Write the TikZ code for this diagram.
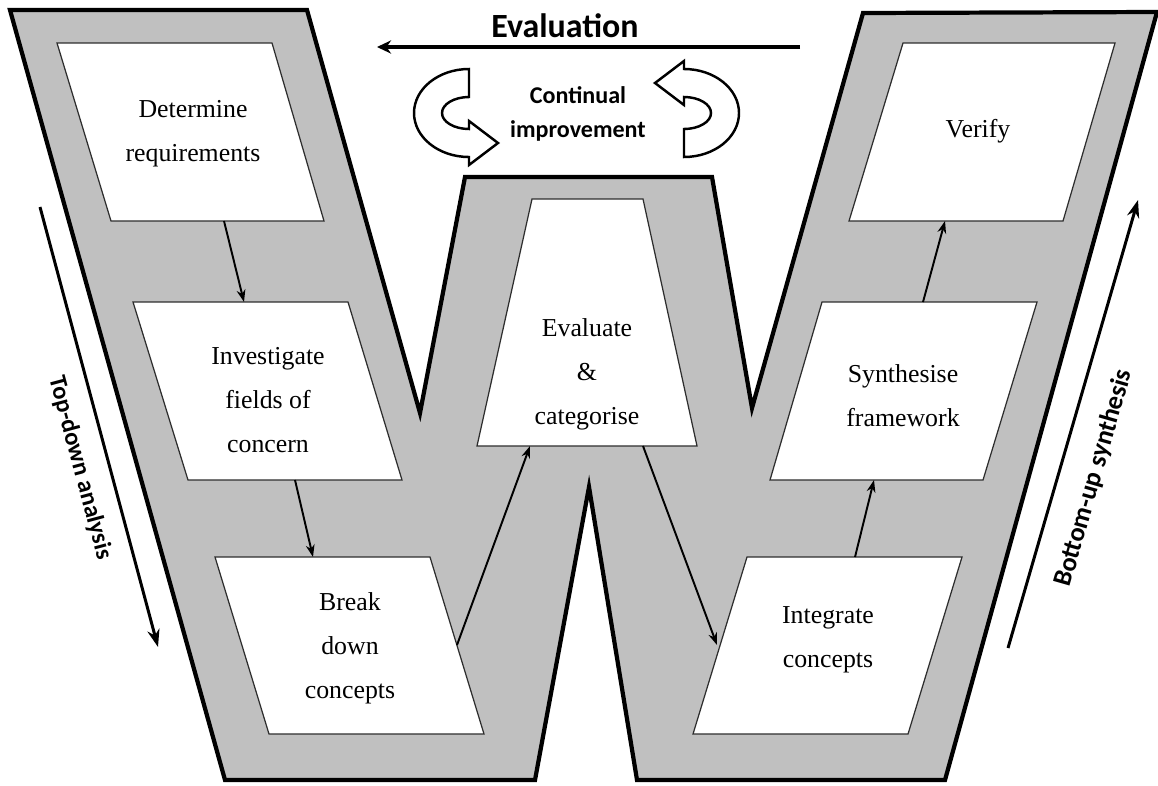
\documentclass[tikz,border=0pt]{standalone}
\usepackage{fontspec}
\setmainfont{Liberation Serif}
\newfontfamily\calib{Carlito}
\usetikzlibrary{arrows.meta}
\definecolor{wfill}{RGB}{192,192,192}
\definecolor{boxline}{RGB}{45,45,45}
\begin{document}
\begin{tikzpicture}[x=0.02cm,y=-0.02cm,
  wshape/.style={fill=wfill, draw=black, line width=2.4pt, line join=miter},
  stagebox/.style={fill=white, draw=boxline, line width=0.7pt},
  stagetext/.style={align=center, font=\fontsize{14.7}{25}\selectfont, inner sep=0pt},
  flow/.style={line width=1.1pt, -{Stealth[length=7pt,width=5pt]}},
  sidearrow/.style={line width=1.7pt, -{Stealth[length=10pt,width=7pt]}},
  sidelabel/.style={font=\calib\bfseries\fontsize{14}{16}\selectfont, inner sep=0pt},
  toplabel/.style={font=\calib\bfseries\fontsize{19.3}{22}\selectfont, inner sep=0pt},
  looplabel/.style={align=center, font=\calib\bfseries\fontsize{13.7}{19.8}\selectfont, inner sep=0pt},
  cyclearrow/.pic={
    \draw[line width=1.4pt, fill=white, line join=miter]
      (0,-44) arc[start angle=270, end angle=90, x radius=55, y radius=44]
      -- (0,52) -- (29,30) -- (0,8) -- (0,16)
      arc[start angle=90, end angle=270, x radius=27, y radius=16] -- cycle;
  }
]
\useasboundingbox (0,0) rectangle (1158,785);

% the W band
\draw[wshape] (10,10) -- (307,10) -- (420,413) -- (465,177) -- (712,177)
  -- (752,408) -- (863,13) -- (1157,12) -- (945,780) -- (637,780)
  -- (589,487) -- (535,780) -- (225,780) -- cycle;

% stage boxes
\draw[stagebox] (57,43) -- (272,43) -- (324,221) -- (111,221) -- cycle;
\draw[stagebox] (133,302) -- (348,302) -- (402,480) -- (188,480) -- cycle;
\draw[stagebox] (215,557) -- (430,557) -- (484,734) -- (269,734) -- cycle;
\draw[stagebox] (532,199) -- (643,199) -- (697,446) -- (477,446) -- cycle;
\draw[stagebox] (747,557) -- (962,557) -- (908,734) -- (693,734) -- cycle;
\draw[stagebox] (822,302) -- (1037,302) -- (983,480) -- (770,480) -- cycle;
\draw[stagebox] (903,43) -- (1115,43) -- (1063,221) -- (849,221) -- cycle;

% stage texts
\node[stagetext] (det) at (193,134) {Determine\\requirements};
\node[stagetext] (inv) at (268,400) {Investigate\\fields of\\concern};
\node[stagetext] (brk) at (350,648) {Break\\down\\concepts};
\node[stagetext] (evl) at (587,374) {Evaluate\\\&\\categorise};
\node[stagetext] (itg) at (828,640) {Integrate\\concepts};
\node[stagetext] (syn) at (903,396) {Synthesise\\framework};
\node[stagetext] (ver) at (978,131) {Verify};

% connector end points on the box edges
\coordinate (det-o) at (224,221);
\coordinate (inv-i) at (244,302);
\coordinate (inv-o) at (295,480);
\coordinate (brk-i) at (313,557);
\coordinate (brk-o) at (457,645);
\coordinate (evl-i) at (530,446);
\coordinate (evl-o) at (643,446);
\coordinate (itg-i) at (717,645);
\coordinate (itg-o) at (855,557);
\coordinate (syn-i) at (874,480);
\coordinate (syn-o) at (923,302);
\coordinate (ver-i) at (945,221);

\draw[flow] (det-o) -- (inv-i);
\draw[flow] (inv-o) -- (brk-i);
\draw[flow] (brk-o) -- (evl-i);
\draw[flow] (evl-o) -- (itg-i);
\draw[flow] (itg-o) -- (syn-i);
\draw[flow] (syn-o) -- (ver-i);

% evaluation arrow
\coordinate (ev-start) at (800,47);
\coordinate (ev-end) at (377,47);
\draw[line width=2.3pt, -{Stealth[length=8pt,width=7.5pt]}] (ev-start) -- (ev-end);
\node[toplabel, anchor=base] (evtitle) at (565,37) {Evaluation};

% continual improvement loop
\pic at (469,113) {cyclearrow};
\pic[rotate=180] at (684,113) {cyclearrow};
\node[looplabel] (loop) at (578,114) {Continual\\improvement};

% side arrows
\coordinate (td-a) at (40,207);
\coordinate (td-b) at (158,647);
\draw[sidearrow] (td-a) -- (td-b);
\node[sidelabel, rotate=-75] (tdlabel) at (80,468) {Top-down analysis};

\coordinate (bu-a) at (1008,648);
\coordinate (bu-b) at (1138,200);
\draw[sidearrow] (bu-a) -- (bu-b);
\node[sidelabel, font=\calib\bfseries\fontsize{15}{17}\selectfont, rotate=74] (bulabel) at (1094,478) {Bottom-up synthesis};
\end{tikzpicture}
\end{document}
